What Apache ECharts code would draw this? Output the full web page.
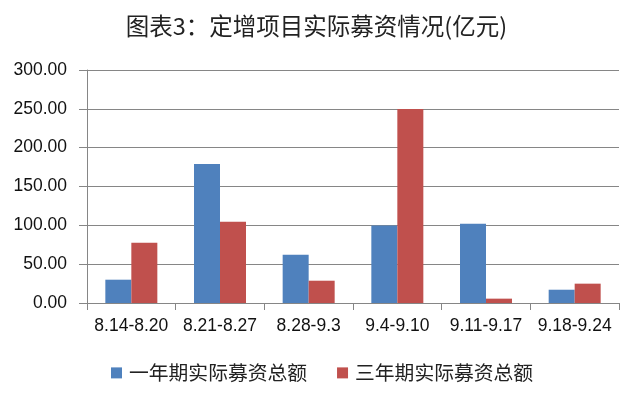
<!DOCTYPE html>
<html><head><meta charset="utf-8">
<script src="https://cdn.jsdelivr.net/npm/echarts@6/dist/echarts.min.js"></script>
<style>html,body{margin:0;padding:0;background:#fff}#c{width:633px;height:394px}</style>
</head><body><div id="c"></div>
<script>
var titleText = '图表3：定增项目实际募资情况(亿元)';
var categories = ['8.14-8.20', '8.21-8.27', '8.28-9.3', '9.4-9.10', '9.11-9.17', '9.18-9.24'];
var seriesNames = ['一年期实际募资总额', '三年期实际募资总额'];
var oneYear = [30.0, 179.1, 62.1, 99.8, 102.0, 17.1];
var threeYear = [77.6, 104.5, 28.7, 249.8, 5.6, 24.9];
var yMin = 0, yMax = 300, yInterval = 50;

var chart = echarts.init(document.getElementById('c'), null, {renderer: 'canvas'});
var gray = '#868686';
var numFont = 'Liberation Sans';
chart.setOption({
  animation: false,
  backgroundColor: '#fff',
  title: {
    text: titleText, left: 'center', top: 9,
    textStyle: {fontFamily: 'Noto Sans CJK SC', fontSize: 23.5, fontWeight: 'normal', color: '#222'}
  },
  legend: {
    left: 106, top: 358,
    itemWidth: 11, itemHeight: 11, itemGap: 30,
    icon: 'rect',
    textStyle: {fontFamily: 'Noto Sans CJK SC', fontSize: 19.8, color: '#222', padding: [0,0,0,2]},
    data: seriesNames
  },
  grid: {left: 87, right: 14, top: 70, bottom: 91, containLabel: false},
  xAxis: {
    type: 'category', data: categories,
    axisLine: {lineStyle: {color: gray, width: 1}},
    axisTick: {show: true, length: 7, lineStyle: {color: gray}},
    axisLabel: {fontFamily: numFont, fontSize: 17.5, color: '#111', margin: 14, interval: 0}
  },
  yAxis: {
    type: 'value', min: yMin, max: yMax, interval: yInterval,
    axisLine: {show: true, lineStyle: {color: gray, width: 1}},
    axisTick: {show: true, length: 8, lineStyle: {color: gray}},
    splitLine: {lineStyle: {color: gray, width: 1}},
    axisLabel: {fontFamily: numFont, fontSize: 17.5, color: '#111', margin: 20,
      formatter: function(v){ return v.toFixed(2); }}
  },
  series: [
    {name: seriesNames[0], type: 'bar', data: oneYear, barWidth: 26, barGap: '0%',
     itemStyle: {color: '#4F81BD'}},
    {name: seriesNames[1], type: 'bar', data: threeYear, barWidth: 26, barGap: '0%',
     itemStyle: {color: '#C0504D'}}
  ]
});
</script></body></html>
